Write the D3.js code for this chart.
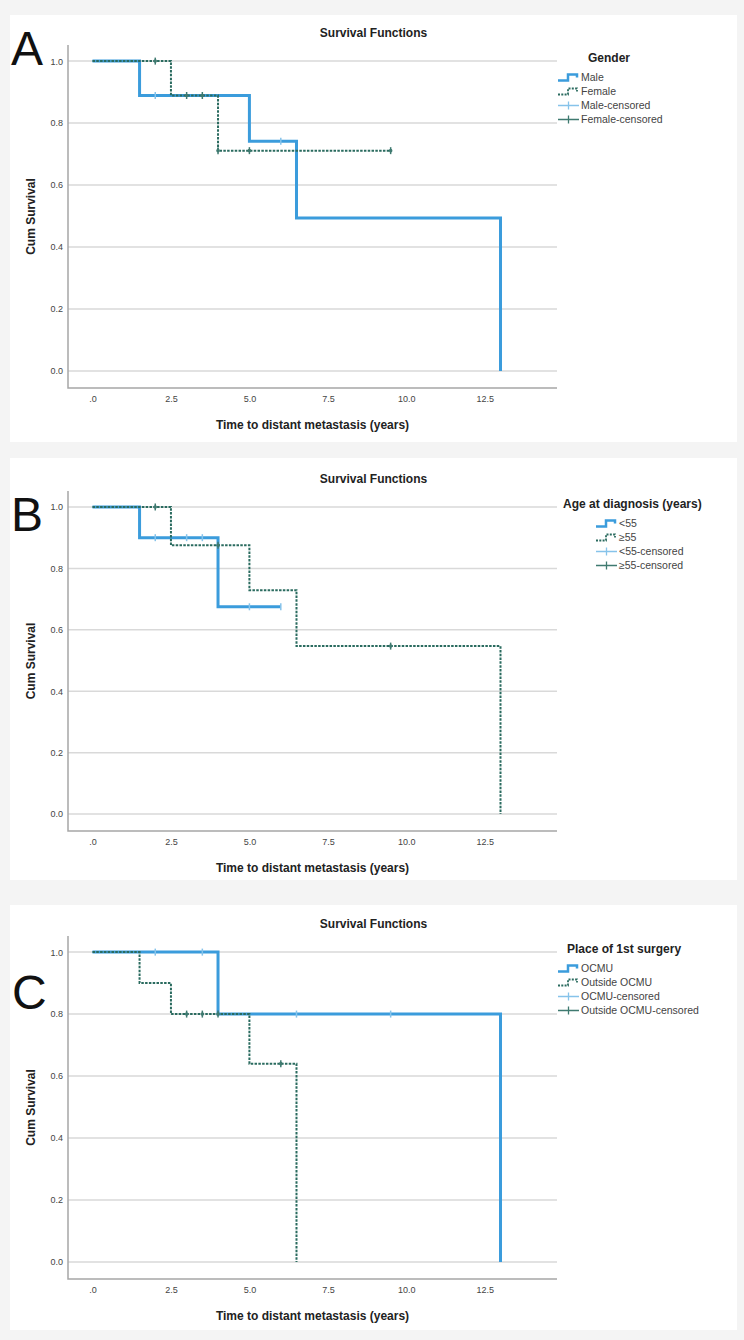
<!DOCTYPE html>
<html>
<head>
<meta charset="utf-8">
<script src="https://cdn.jsdelivr.net/npm/d3@7"></script>
<style>
  body { margin: 0; background: #f4f4f4; }
  svg { display: block; }
  text { font-family: "Liberation Sans", Arial, sans-serif; }
</style>
</head>
<body>
<svg id="chart" width="744" height="1340"></svg>
<script>
// axis ticks (SPSS style labels)
const xTickValues = [0, 2.5, 5, 7.5, 10, 12.5];
const xTickLabels = ['.0', '2.5', '5.0', '7.5', '10.0', '12.5'];
const yTickValues = [0, 0.2, 0.4, 0.6, 0.8, 1.0];
const yTickLabels = ['0.0', '0.2', '0.4', '0.6', '0.8', '1.0'];

// A: gender
const maleTimes = [0, 1.5, 5.0, 6.5, 13.0];
const maleSurv = [1.0, 0.889, 0.741, 0.494, 0.0];
const maleEnd = 13.0;
const maleCensored = [2.0, 6.0];
const femaleTimes = [0, 2.5, 4.0];
const femaleSurv = [1.0, 0.889, 0.711];
const femaleEnd = 9.5;
const femaleCensored = [2.0, 3.0, 3.5, 4.0, 5.0, 9.5];
const genderNames = ['Male', 'Female', 'Male-censored', 'Female-censored'];

// B: age at diagnosis
const under55Times = [0, 1.5, 4.0];
const under55Surv = [1.0, 0.9, 0.675];
const under55End = 6.0;
const under55Censored = [2.0, 3.0, 3.5, 5.0, 6.0];
const over55Times = [0, 2.5, 5.0, 6.5, 13.0];
const over55Surv = [1.0, 0.875, 0.729, 0.547, 0.0];
const over55End = 13.0;
const over55Censored = [2.0, 4.0, 9.5];
const ageNames = ['<55', '\u226555', '<55-censored', '\u226555-censored'];

// C: place of 1st surgery
const ocmuTimes = [0, 4.0, 13.0];
const ocmuSurv = [1.0, 0.8, 0.0];
const ocmuEnd = 13.0;
const ocmuCensored = [2.0, 3.5, 6.5, 9.5];
const outsideTimes = [0, 1.5, 2.5, 5.0, 6.5];
const outsideSurv = [1.0, 0.9, 0.8, 0.64, 0.0];
const outsideEnd = 6.5;
const outsideCensored = [3.0, 3.5, 4.0, 6.0];
const placeNames = ['OCMU', 'Outside OCMU', 'OCMU-censored', 'Outside OCMU-censored'];

const BLUE = '#3b9cdc';
const BLUE_LIGHT = '#86c3ea';
const TEAL = '#2a6b5f';
const TEAL_CENS = '#3f7a70';

const panels = [
  { letter: 'A', letterX: 11, letterY: 65, box: [10, 15, 727, 427], plotTop: 45, plotH: 343,
    legendTitle: 'Gender', legendTitleX: 588, legendX: 558, names: genderNames,
    a: { times: maleTimes, surv: maleSurv, end: maleEnd, cens: maleCensored },
    b: { times: femaleTimes, surv: femaleSurv, end: femaleEnd, cens: femaleCensored } },
  { letter: 'B', letterX: 11, letterY: 531, box: [10, 458, 727, 422], plotTop: 491, plotH: 340,
    legendTitle: 'Age at diagnosis (years)', legendTitleX: 563, legendX: 596, names: ageNames,
    a: { times: under55Times, surv: under55Surv, end: under55End, cens: under55Censored },
    b: { times: over55Times, surv: over55Surv, end: over55End, cens: over55Censored } },
  { letter: 'C', letterX: 12, letterY: 1009, box: [10, 905, 727, 425], plotTop: 936, plotH: 343,
    legendTitle: 'Place of 1st surgery', legendTitleX: 567, legendX: 558, names: placeNames,
    a: { times: ocmuTimes, surv: ocmuSurv, end: ocmuEnd, cens: ocmuCensored },
    b: { times: outsideTimes, surv: outsideSurv, end: outsideEnd, cens: outsideCensored } },
];

const svg = d3.select('#chart');
svg.append('rect').attr('width', 744).attr('height', 1340).attr('fill', '#f4f4f4');

const plotLeft = 68;
const plotRight = 557;

function stepValue(s, t) {
  let v = s.surv[0];
  s.times.forEach((ti, i) => { if (ti <= t) v = s.surv[i]; });
  return v;
}

function stepPoints(s) {
  const pts = s.times.map((t, i) => [t, s.surv[i]]);
  if (s.end > s.times[s.times.length - 1]) pts.push([s.end, s.surv[s.surv.length - 1]]);
  return pts;
}

function drawPanel(p) {
  const [bx, by, bw, bh] = p.box;
  const g = svg.append('g');
  g.append('rect').attr('x', bx).attr('y', by).attr('width', bw).attr('height', bh).attr('fill', '#fff');

  const x = d3.scaleLinear().domain([-0.78, 14.8]).range([plotLeft, plotRight]);
  const y = d3.scaleLinear().domain([-0.055, 1.052]).range([p.plotTop + p.plotH, p.plotTop]);
  const bottom = p.plotTop + p.plotH;

  // gridlines
  g.append('g').selectAll('line').data(yTickValues).join('line')
    .attr('x1', plotLeft).attr('x2', plotRight)
    .attr('y1', (d) => y(d)).attr('y2', (d) => y(d))
    .attr('stroke', '#d9d9d9').attr('stroke-width', 1.5);

  // axes
  const yAxis = g.append('g').attr('transform', `translate(${plotLeft},0)`)
    .call(d3.axisLeft(y).tickValues(yTickValues).tickSize(0).tickPadding(5)
      .tickFormat((d, i) => yTickLabels[i]));
  const xAxis = g.append('g').attr('transform', `translate(0,${bottom})`)
    .call(d3.axisBottom(x).tickValues(xTickValues).tickSize(0).tickPadding(8)
      .tickFormat((d, i) => xTickLabels[i]));
  [xAxis, yAxis].forEach((ax) => {
    ax.select('.domain').remove();
    ax.selectAll('text').attr('font-size', 9).attr('fill', '#444')
      .style('font-family', '"Liberation Sans", Arial, sans-serif');
  });
  g.append('path')
    .attr('d', `M${plotLeft},${p.plotTop}V${bottom}H${plotRight}`)
    .attr('fill', 'none').attr('stroke', '#a6a6a6').attr('stroke-width', 1.5);

  // curves
  const line = d3.line().x((d) => x(d[0])).y((d) => y(d[1])).curve(d3.curveStepAfter);
  g.append('path').datum(stepPoints(p.a)).attr('d', line)
    .attr('fill', 'none').attr('stroke', BLUE).attr('stroke-width', 3);
  g.append('path').datum(stepPoints(p.b)).attr('d', line)
    .attr('fill', 'none').attr('stroke', TEAL).attr('stroke-width', 2)
    .attr('stroke-dasharray', '2.5,1.3');

  // censored marks
  g.append('g').selectAll('line').data(p.a.cens).join('line')
    .attr('x1', (d) => x(d)).attr('x2', (d) => x(d))
    .attr('y1', (d) => y(stepValue(p.a, d)) - 3.5).attr('y2', (d) => y(stepValue(p.a, d)) + 3.5)
    .attr('stroke', BLUE_LIGHT).attr('stroke-width', 1.5);
  g.append('g').selectAll('line').data(p.b.cens).join('line')
    .attr('x1', (d) => x(d)).attr('x2', (d) => x(d))
    .attr('y1', (d) => y(stepValue(p.b, d)) - 3.5).attr('y2', (d) => y(stepValue(p.b, d)) + 3.5)
    .attr('stroke', TEAL_CENS).attr('stroke-width', 1.5);
  g.append('g').selectAll('circle').data(p.b.cens).join('circle')
    .attr('cx', (d) => x(d)).attr('cy', (d) => y(stepValue(p.b, d))).attr('r', 1.8)
    .attr('fill', TEAL_CENS);

  // titles
  g.append('text').attr('x', bx + bw / 2).attr('y', p.plotTop - 8).attr('text-anchor', 'middle')
    .attr('font-size', 12).attr('font-weight', 'bold').attr('fill', '#222').text('Survival Functions');
  g.append('text').attr('x', (plotLeft + plotRight) / 2).attr('y', bottom + 41).attr('text-anchor', 'middle')
    .attr('font-size', 12).attr('font-weight', 'bold').attr('fill', '#222')
    .text('Time to distant metastasis (years)');
  g.append('text').attr('transform', `translate(35,${p.plotTop + p.plotH / 2}) rotate(-90)`)
    .attr('text-anchor', 'middle').attr('font-size', 12).attr('font-weight', 'bold').attr('fill', '#222')
    .text('Cum Survival');
  g.append('text').attr('x', p.letterX).attr('y', p.letterY)
    .attr('font-size', 48).attr('fill', '#111').text(p.letter);

  // legend
  const lg = g.append('g');
  lg.append('text').attr('x', p.legendTitleX).attr('y', p.plotTop + 17)
    .attr('font-size', 12).attr('font-weight', 'bold').attr('fill', '#222').text(p.legendTitle);
  p.names.forEach((name, i) => {
    const cy = p.plotTop + 32.5 + 14 * i;
    const sx = p.legendX;
    if (i < 2) {
      lg.append('path')
        .attr('d', `M${sx},${cy + 3}H${sx + 10}V${cy - 3}H${sx + 19}V${cy}`)
        .attr('fill', 'none')
        .attr('stroke', i === 0 ? BLUE : TEAL)
        .attr('stroke-width', i === 0 ? 2.5 : 1.8)
        .attr('stroke-dasharray', i === 0 ? null : '2,1.3');
    } else {
      const c = i === 2 ? BLUE_LIGHT : TEAL_CENS;
      lg.append('path')
        .attr('d', `M${sx},${cy}H${sx + 21}M${sx + 10.5},${cy - 4}V${cy + 4}`)
        .attr('fill', 'none').attr('stroke', c).attr('stroke-width', 1.3);
    }
    lg.append('text').attr('x', sx + 23).attr('y', cy + 3.5)
      .attr('font-size', 10.5).attr('fill', '#444').text(name);
  });
}

panels.forEach(drawPanel);
</script>
</body>
</html>
